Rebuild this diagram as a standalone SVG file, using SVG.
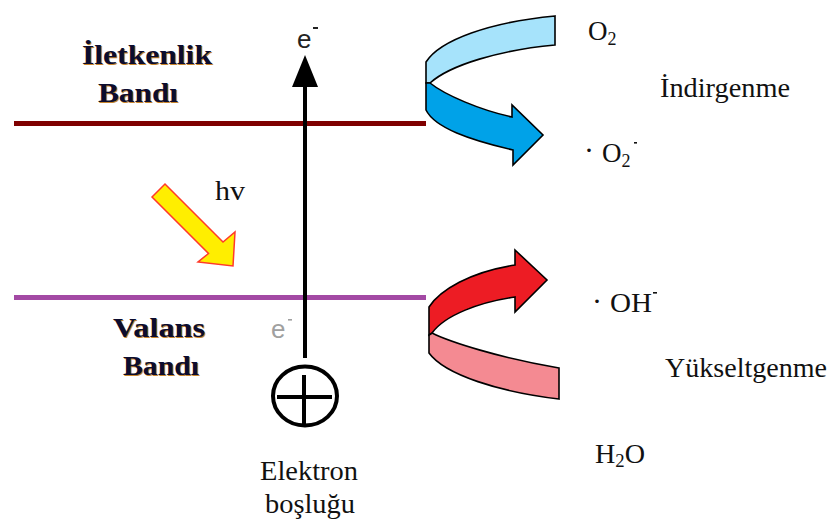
<svg xmlns="http://www.w3.org/2000/svg" width="830" height="528" viewBox="0 0 830 528">
<style>
.ser{font-family:"Liberation Serif","Times New Roman",serif;fill:#111;}
.lbl{font-size:27px;}
.sub{font-size:18px;}
.bold{font-family:"Liberation Serif","Times New Roman",serif;font-weight:bold;font-size:28px;fill:#0c0c2e;}
.shadow{font-family:"Liberation Serif","Times New Roman",serif;font-weight:bold;font-size:28px;fill:#c8852c;}
.sans{font-family:"Liberation Sans",Arial,sans-serif;font-size:26px;}
.edge{stroke:#000;stroke-width:1.6;stroke-linejoin:miter;}
</style>
<rect width="830" height="528" fill="#fff"/>

<g id="conduction-band">
  <rect x="14" y="121" width="412" height="5" fill="#7f0000"/>
  <text class="shadow" x="83" y="65" textLength="130" lengthAdjust="spacingAndGlyphs">İletkenlik</text>
  <text class="bold" x="82" y="64" textLength="130" lengthAdjust="spacingAndGlyphs">İletkenlik</text>
  <text class="shadow" x="99" y="103" textLength="80" lengthAdjust="spacingAndGlyphs">Bandı</text>
  <text class="bold" x="98" y="102" textLength="80" lengthAdjust="spacingAndGlyphs">Bandı</text>
</g>

<g id="valence-band">
  <rect x="14" y="295" width="412" height="5" fill="#a349a4"/>
  <text class="shadow" x="114" y="338" textLength="92" lengthAdjust="spacingAndGlyphs">Valans</text>
  <text class="bold" x="113" y="337" textLength="92" lengthAdjust="spacingAndGlyphs">Valans</text>
  <text class="shadow" x="124" y="376" textLength="76" lengthAdjust="spacingAndGlyphs">Bandı</text>
  <text class="bold" x="123" y="375" textLength="76" lengthAdjust="spacingAndGlyphs">Bandı</text>
</g>

<g id="light">
  <polygon points="152,197 165,184 223,242 235,232 233,266 198,262 208.5,253.5" fill="#ffee00" stroke="#ff3a2a" stroke-width="1.5"/>
  <text class="ser" x="215" y="200" font-size="27" textLength="30" lengthAdjust="spacingAndGlyphs">hv</text>
</g>

<g id="electron-top">
  <text class="sans" x="297" y="48" style="fill:#222">e</text>
  <rect x="313" y="27" width="5" height="2" fill="#222"/>
</g>

<g id="electron-bottom">
  <text class="sans" x="271" y="338" style="fill:#a0a0a0" font-size="24">e</text>
  <rect x="288" y="319" width="4" height="1.6" fill="#a0a0a0"/>
</g>

<g id="hole">
  <ellipse cx="305" cy="396" rx="32" ry="29.5" fill="#fff" stroke="#000" stroke-width="4"/>
  <line x1="277" y1="397" x2="332" y2="397" stroke="#000" stroke-width="4"/>
  <line x1="304" y1="375" x2="304" y2="425" stroke="#000" stroke-width="4"/>
  <text class="ser lbl" x="260" y="480" textLength="98" lengthAdjust="spacingAndGlyphs">Elektron</text>
  <text class="ser lbl" x="265" y="513" textLength="90" lengthAdjust="spacingAndGlyphs">boşluğu</text>
</g>

<g id="connectors">
  <line x1="305" y1="358" x2="305" y2="82" stroke="#000" stroke-width="4"/>
  <polygon points="305,55 318,87 292,87" fill="#000"/>
  <g id="reduction-arrow">
    <path class="edge" fill="#a6e3fb" d="M426,62 C440,40 490,22 555,16 L555,45 C500,50 450,65 430,83 L426,83 Z"/>
    <path class="edge" fill="#00a2e8" d="M430,83 C445,95 480,110 512,117 L512,105 L543,135 L513,165 L513,150 C470,140 435,128 426,110 L426,83 Z"/>
  </g>
  <g id="oxidation-arrow">
    <path class="edge" fill="#f48a92" d="M432,333 C450,342 500,358 559,368 L559,399 C500,392 445,375 429,353 L429,335 Z"/>
    <path class="edge" fill="#ed1c24" d="M429,335 L429,307 C440,290 470,272 515,265 L515,250 L547,280 L515,312 L515,297 C480,302 445,315 432,333 Z"/>
  </g>
</g>

<g id="o2">
  <text class="ser lbl" x="588" y="40">O<tspan class="sub" dy="5">2</tspan></text>
</g>
<g id="indirgenme">
  <text class="ser lbl" x="660" y="97" textLength="130" lengthAdjust="spacingAndGlyphs">İndirgenme</text>
</g>
<g id="superoxide">
  <text class="ser" x="584" y="160" font-size="30">·</text>
  <text class="ser lbl" x="602" y="162">O<tspan class="sub" dy="5">2</tspan></text>
  <rect x="634" y="142" width="3" height="1.6" fill="#111"/>
</g>
<g id="hydroxyl">
  <text class="ser" x="592" y="311" font-size="30">·</text>
  <text class="ser lbl" x="610" y="312" textLength="42" lengthAdjust="spacingAndGlyphs">OH</text>
  <rect x="653" y="292" width="4" height="1.6" fill="#111"/>
</g>
<g id="yukseltgenme">
  <text class="ser lbl" x="665" y="377" textLength="162" lengthAdjust="spacingAndGlyphs">Yükseltgenme</text>
</g>
<g id="h2o">
  <text class="ser lbl" x="595" y="463" textLength="50" lengthAdjust="spacingAndGlyphs">H<tspan class="sub" dy="4">2</tspan><tspan dy="-4">O</tspan></text>
</g>
</svg>
